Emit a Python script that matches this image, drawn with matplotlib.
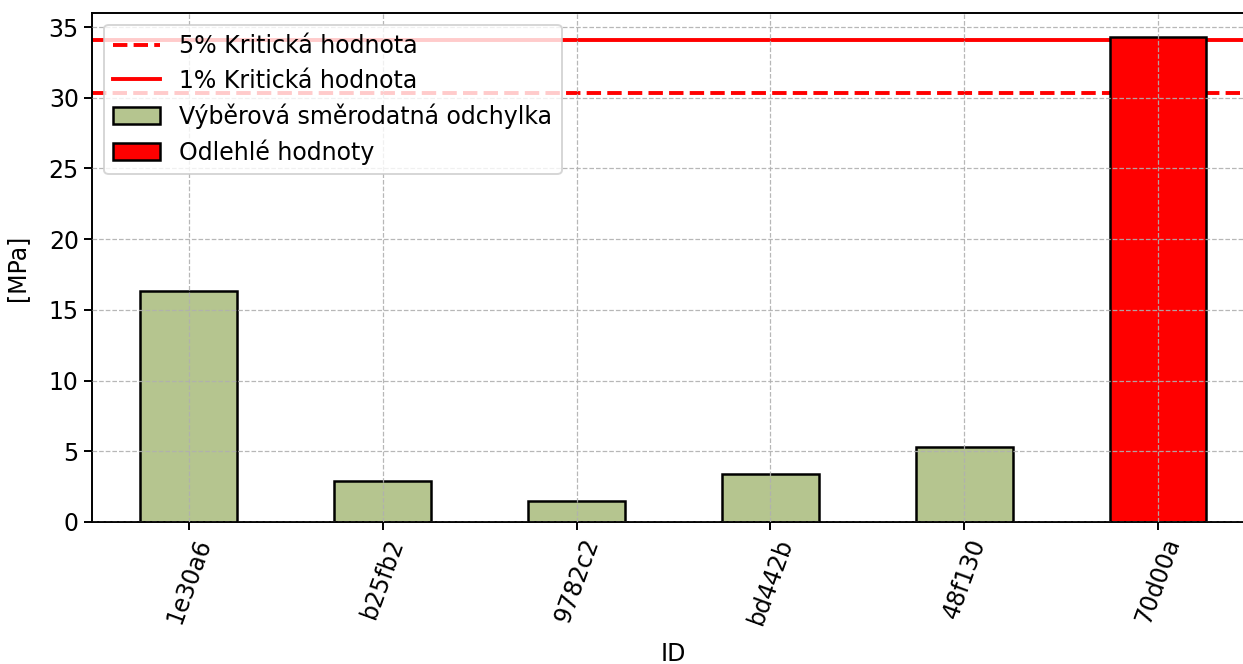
import matplotlib
matplotlib.use("Agg")
from matplotlib import pyplot as plt

# data
ids = ["1e30a6", "b25fb2", "9782c2", "bd442b", "48f130", "70d00a"]
std_values = [16.3, 2.9, 1.45, 3.4, 5.3, 34.3]
is_outlier = [False, False, False, False, False, True]
crit_5 = 30.3
crit_1 = 34.1

GREEN = "#b5c58f"
RED = "#ff0000"
FS = 17

fig = plt.figure(figsize=(12.43, 6.64), dpi=100)
ax = fig.add_axes([0.074, 0.214, 0.9356, 0.7666])

ax.axhline(crit_5, color=RED, ls="--", lw=2.8, label="5% Kritická hodnota", zorder=1)
ax.axhline(crit_1, color=RED, ls="-", lw=2.8, label="1% Kritická hodnota", zorder=1)

pos = list(range(len(ids)))
normal_x = [p for p, o in zip(pos, is_outlier) if not o]
normal_y = [v for v, o in zip(std_values, is_outlier) if not o]
out_x = [p for p, o in zip(pos, is_outlier) if o]
out_y = [v for v, o in zip(std_values, is_outlier) if o]

ax.bar(normal_x, normal_y, width=0.5, color=GREEN, edgecolor="black", lw=1.8,
       label="Výběrová směrodatná odchylka", zorder=2)
ax.bar(out_x, out_y, width=0.5, color=RED, edgecolor="black", lw=1.8,
       label="Odlehlé hodnoty", zorder=2)

ax.set_xlim(-0.5, len(ids) - 0.5)
ax.set_ylim(0, 36)
ax.set_xticks(pos)
ax.set_xticklabels(ids, rotation=70, fontsize=FS)
ax.tick_params(axis="y", labelsize=FS)
ax.tick_params(width=1.4, length=6)
ax.set_xlabel("ID", fontsize=FS, labelpad=10)
ax.set_ylabel("[MPa]", fontsize=FS, labelpad=14)

ax.grid(True, ls="--", color="#b0b0b0", lw=0.9, alpha=0.9, zorder=3)
ax.set_axisbelow(False)
for s in ax.spines.values():
    s.set_linewidth(1.4)

leg = ax.legend(loc="upper left", fontsize=FS, framealpha=0.8,
                labelspacing=0.45, borderpad=0.4)
leg.get_frame().set_linewidth(1.4)

fig.savefig("out.png", dpi=100)
